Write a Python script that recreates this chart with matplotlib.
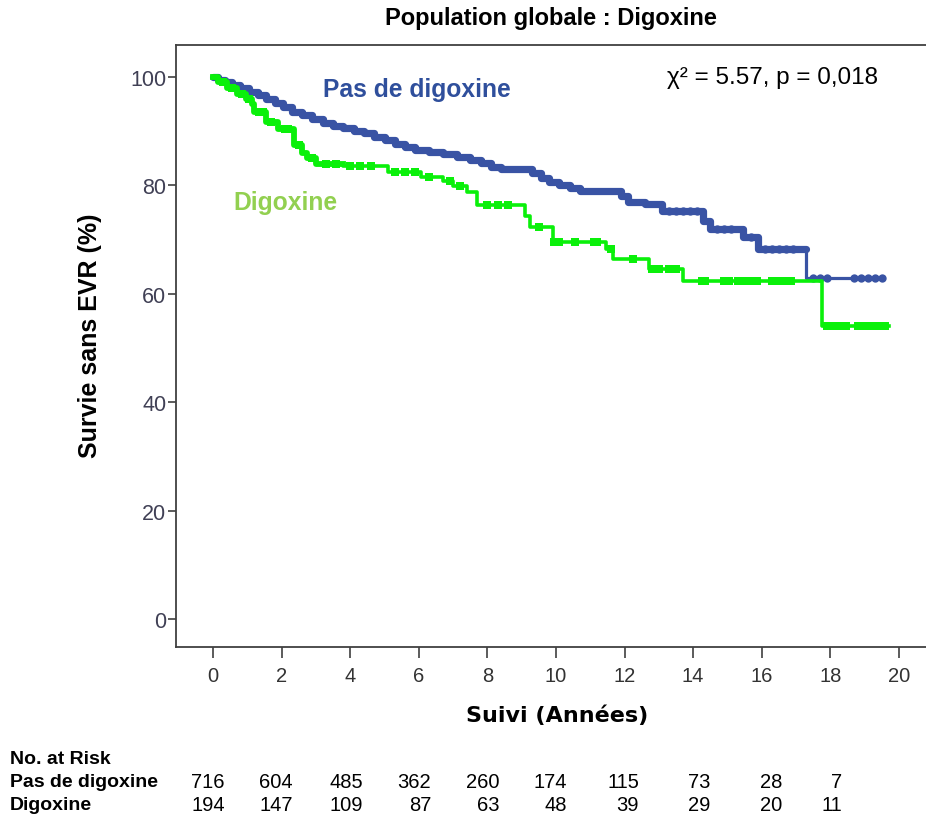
import matplotlib
matplotlib.use("Agg")
import matplotlib.pyplot as plt
from matplotlib import font_manager
import numpy as np

# Kaplan-Meier estimates: event-free survival (%) by years of follow-up
no_dig_time = [0, 0.15, 0.35, 0.55, 0.8, 1.05, 1.3, 1.55, 1.8, 2.05, 2.3, 2.6, 2.9,
               3.2, 3.5, 3.8, 4.1, 4.4, 4.7, 5.0, 5.3, 5.6, 5.9, 6.3, 6.7, 7.1, 7.5,
               7.8, 8.1, 8.4, 9.3, 9.55, 9.8, 10.1, 10.4, 10.7, 11.9, 12.1, 12.6,
               13.1, 14.3, 14.5, 15.45, 15.9, 17.3]
no_dig_surv = [100, 99.5, 99.0, 98.5, 97.9, 97.3, 96.7, 96.0, 95.2, 94.4, 93.6, 92.9,
               92.2, 91.5, 91.0, 90.6, 90.1, 89.6, 89.0, 88.3, 87.7, 87.1, 86.6, 86.1,
               85.7, 85.3, 84.7, 84.1, 83.4, 83.0, 82.3, 81.3, 80.6, 80.0, 79.5, 79.0,
               78.0, 77.0, 76.6, 75.3, 73.5, 72.0, 70.5, 68.3, 63.0]
no_dig_end = 19.5
no_dig_censor = [13.3, 13.5, 13.7, 13.9, 14.1, 14.7, 14.9, 15.1, 15.7, 16.1, 16.3,
                 16.5, 16.7, 16.9, 17.5, 17.7, 17.9, 18.7, 18.9, 19.1, 19.3, 19.5]

dig_time = [0, 0.15, 0.4, 0.7, 0.95, 1.15, 1.2, 1.55, 1.9, 2.35, 2.6, 2.75, 3.0, 3.8,
            5.1, 6.05, 6.7, 7.0, 7.4, 7.7, 9.1, 9.25, 9.9, 11.45, 11.65, 12.7, 13.7,
            17.75]
dig_surv = [100, 99.0, 98.0, 96.8, 96.0, 95.0, 93.5, 91.7, 90.4, 87.5, 86.0, 85.0,
            84.0, 83.6, 82.5, 81.5, 80.8, 79.9, 78.8, 76.4, 74.4, 72.3, 69.6, 68.3,
            66.4, 64.6, 62.4, 54.1]
dig_end = 19.7
dig_censor = [0.3, 0.55, 0.85, 1.05, 1.35, 1.45, 1.7, 2.1, 2.2, 2.5, 2.9, 3.3, 3.6,
              4.0, 4.3, 4.6, 5.3, 5.6, 5.9, 6.3, 6.9, 7.2, 8.0, 8.3, 8.6, 9.5, 9.95,
              10.1, 10.55, 11.1, 11.2, 11.6, 12.25, 12.8, 13.0, 13.3, 13.5, 14.25,
              14.35, 14.9, 15.05, 15.3, 15.5, 15.7, 15.85, 16.3, 16.5, 16.7, 16.85,
              17.9, 18.1, 18.3, 18.45, 18.8, 19.0, 19.2, 19.4, 19.6]

x_ticks = [0, 2, 4, 6, 8, 10, 12, 14, 16, 18, 20]
y_ticks = [0, 20, 40, 60, 80, 100]

risk_groups = ["Pas de digoxine", "Digoxine"]
risk_no_dig = [716, 604, 485, 362, 260, 174, 115, 73, 28, 7]
risk_dig = [194, 147, 109, 87, 63, 48, 39, 29, 20, 11]

BLUE = "#3953A4"
GREEN = "#0AF00A"
BLUE_TXT = "#2F4F9C"
GREEN_TXT = "#92D050"
AXIS = "#404040"

installed = {f.name for f in font_manager.fontManager.ttflist}
NARROW = "Liberation Sans Narrow" if "Liberation Sans Narrow" in installed else "Liberation Sans"
plt.rcParams["font.family"] = ["Liberation Sans", "DejaVu Sans"]

W, H = 926, 820
fig = plt.figure(figsize=(W / 100, H / 100), dpi=100)
ax = fig.add_axes([176 / W, 1 - 648 / H, (W - 176) / W, (648 - 46) / H])


def surv_at(times, surv, t):
    i = np.searchsorted(times, t, side="right") - 1
    return np.asarray(surv)[i]


def step_xy(times, surv, end):
    return list(times) + [end], list(surv) + [surv[-1]]


# No digoxine: heavily censored early part drawn thicker
bx, by = step_xy(no_dig_time, no_dig_surv, no_dig_end)
ax.step(bx, by, where="post", color=BLUE, lw=2.3, solid_capstyle="round", zorder=3)
cut = no_dig_time.index(17.3)
ax.step(no_dig_time[:cut] + [17.3], no_dig_surv[:cut] + [no_dig_surv[cut - 1]],
        where="post", color=BLUE, lw=5.2, solid_capstyle="round", zorder=3)
ax.plot(no_dig_censor, surv_at(no_dig_time, no_dig_surv, no_dig_censor), "o",
        color=BLUE, ms=6, mew=0, zorder=3)

# Digoxine
gx, gy = step_xy(dig_time, dig_surv, dig_end)
ax.step(gx, gy, where="post", color=GREEN, lw=2.6, zorder=4)
gcut = dig_time.index(3.8)
ax.step(dig_time[:gcut] + [3.8], dig_surv[:gcut] + [dig_surv[gcut - 1]],
        where="post", color=GREEN, lw=4.2, zorder=4)
ax.plot(dig_censor, surv_at(dig_time, dig_surv, dig_censor), "s",
        color=GREEN, ms=5.5, mew=0, zorder=4)

ax.set_xlim(-1.08, 20.79)
ax.set_ylim(-5.17, 105.9)
ax.set_xticks(x_ticks)
ax.set_yticks(y_ticks)
ax.set_xticklabels([str(v) for v in x_ticks], fontfamily=NARROW, fontsize=14.5, color="#333333")
ax.set_yticklabels([str(v) for v in y_ticks], fontsize=15.5, color="#404055")
ax.tick_params(axis="x", direction="out", length=8, width=1.2, color=AXIS, pad=6)
ax.tick_params(axis="y", direction="out", length=6, width=1.2, color=AXIS, pad=1)
for side in ("left", "bottom", "top"):
    ax.spines[side].set_color(AXIS)
    ax.spines[side].set_linewidth(1.3)
ax.spines["right"].set_visible(False)

fig.text(551 / W, 1 - 18 / H, "Population globale : Digoxine", ha="center", va="center",
         fontsize=17, fontweight="bold", color="black")
fig.text(557 / W, 1 - 716 / H, "Suivi (Années)", ha="center", va="center",
         fontsize=16, fontweight="bold", color="black", fontfamily="DejaVu Sans")
fig.text(90 / W, 1 - 336 / H, "Survie sans EVR (%)", ha="center", va="center",
         rotation=90, fontsize=18, fontweight="bold", color="black")

fig.text(323 / W, 1 - 90 / H, "Pas de digoxine", ha="left", va="center",
         fontsize=17.7, fontweight="bold", color=BLUE_TXT)
fig.text(233 / W, 1 - 203 / H, "Digoxine", ha="left", va="center",
         fontsize=17.7, fontweight="bold", color=GREEN_TXT)
fig.text(667 / W, 1 - 78 / H, "χ² = 5.57, p = 0,018", ha="left", va="center",
         fontsize=17.5, color="black")

# Number-at-risk table
fig.text(10 / W, 1 - 760 / H, "No. at Risk", ha="left", va="center",
         fontfamily=NARROW, fontsize=14, fontweight="bold")
row_y = [783, 806]
col_right = [225, 293, 363, 431, 500, 567, 639, 710, 782, 842]
for label, counts, yy in zip(risk_groups, [risk_no_dig, risk_dig], row_y):
    fig.text(10 / W, 1 - yy / H, label, ha="left", va="center",
             fontfamily=NARROW, fontsize=14, fontweight="bold")
    for n, xr in zip(counts, col_right):
        fig.text(xr / W, 1 - yy / H, str(n), ha="right", va="center",
                 fontfamily=NARROW, fontsize=14.5)

fig.savefig("out.png", dpi=100, facecolor="white")
